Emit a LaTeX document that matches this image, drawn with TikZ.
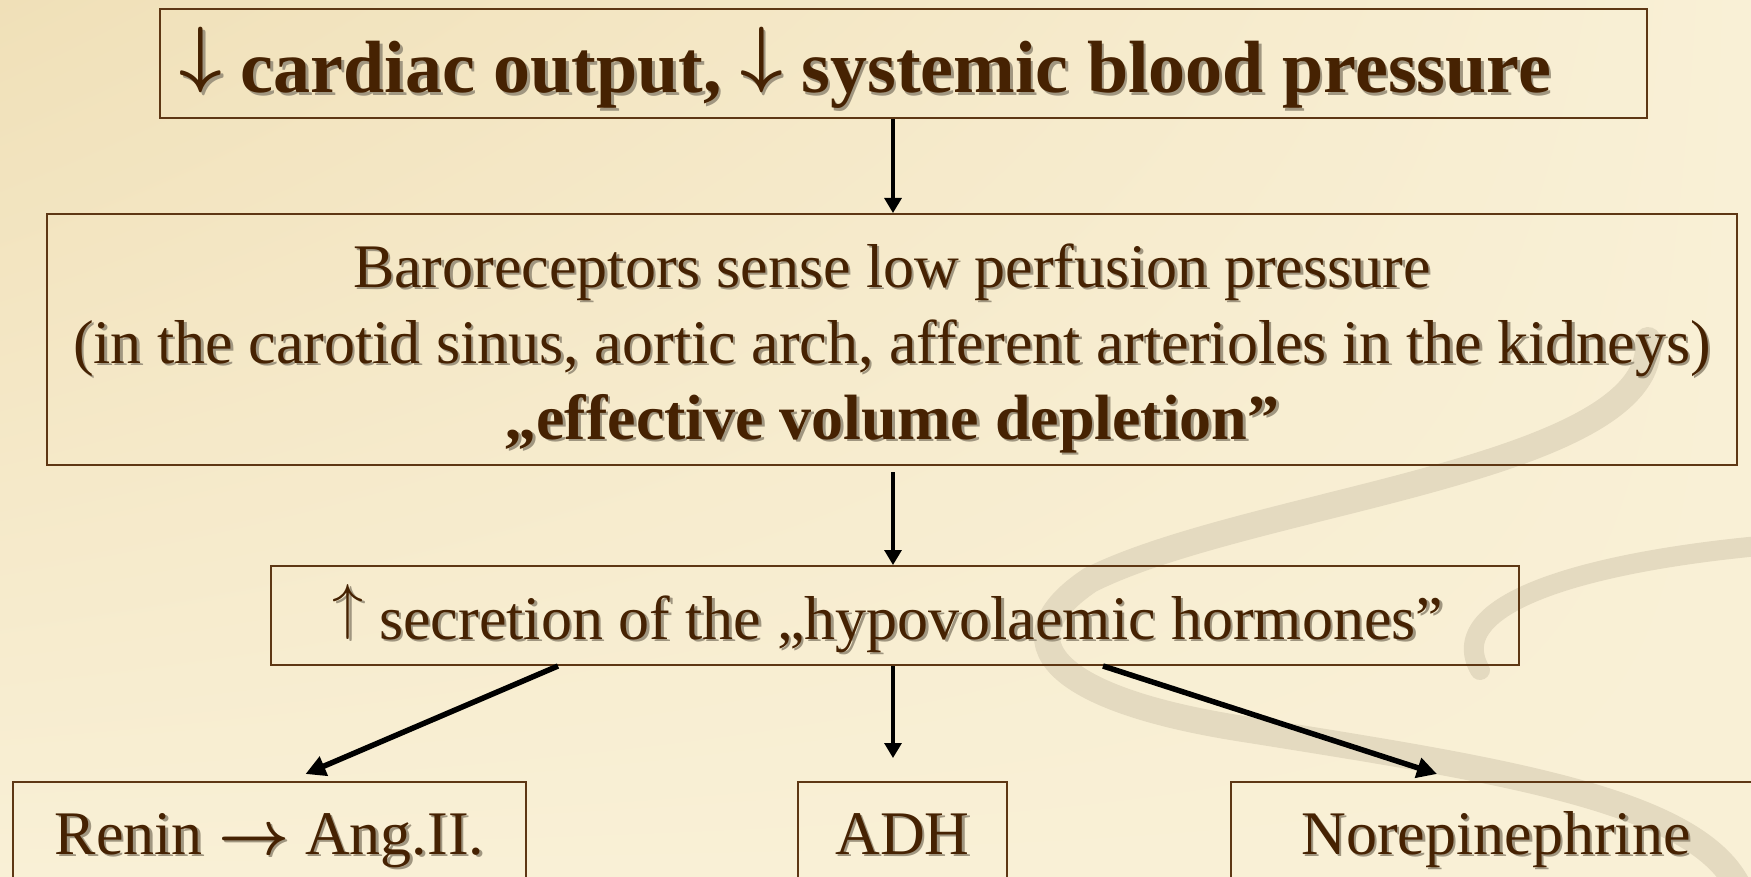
\documentclass[tikz,border=0pt]{standalone}
\usepackage{fix-cm}
\usepackage{amsmath}
\usepackage{fontspec}
\setmainfont{Liberation Serif}
\usepackage{xcolor}
\definecolor{bgpale}{RGB}{249,240,214}
\definecolor{bgwarm}{RGB}{240,224,184}
\definecolor{boxbrown}{RGB}{94,55,20}
\definecolor{textbrown}{RGB}{70,34,2}
\definecolor{shadowgray}{RGB}{160,150,128}
\definecolor{swirlgray}{RGB}{228,218,192}
\usepackage{tikz}
\usetikzlibrary{arrows.meta, positioning, calc, shadings}

\newcommand{\shd}[1]{\leavevmode\rlap{\kern2.5pt\raisebox{-2.5pt}{\color{shadowgray}#1}}#1}
\newcommand{\dn}{\raisebox{.19em}{$\boldsymbol{\downarrow}$}}
\newcommand{\up}{\raisebox{.19em}{$\uparrow$}}

\begin{document}
\begin{tikzpicture}[x=1pt, y=-1pt,
    box/.style={draw=boxbrown, line width=2pt, text=textbrown, inner sep=0pt, align=center, text depth=0pt},
    bigtext/.style={font=\fontsize{74}{76}\selectfont\bfseries},
    bodytext/.style={font=\fontsize{62}{76}\selectfont},
    flow/.style={-{Triangle[length=15pt, width=17pt]}, line width=3.2pt, black},
    flowthick/.style={-{Triangle[length=20pt, width=20pt]}, line width=5.5pt, black}]
    \clip (0,0) rectangle (1751,877);
    % background and swirl
    \shade[upper left=bgwarm, upper right=bgpale, lower left=bgpale, lower right=bgpale] (0,0) rectangle (1751,877);
    \draw[swirlgray, line width=26pt, line cap=round] (1648,340) .. controls (1660,470) and (1250,500) .. (1090,580)
        .. controls (1000,640) and (1050,700) .. (1250,730) .. controls (1500,770) and (1700,800) .. (1740,890);
    \draw[swirlgray, line width=20pt, line cap=round] (1770,545) .. controls (1600,560) and (1440,600) .. (1480,670);

    \node[box, bigtext, text height=59pt, minimum width=1487, minimum height=109] (cardiac) at (903.5,63.5)
        {\shd{\dn\ cardiac output, \dn\ systemic blood pressure}\kern76pt};
    \node[box, bodytext, text height=199pt, minimum width=1690, minimum height=251] (baro) at (892,339.5)
        {\shd{Baroreceptors sense low perfusion pressure}\\
         \shd{(in the carotid sinus, aortic arch, afferent arterioles in the kidneys)}\\
         {\fontsize{64}{76}\selectfont\bfseries\shd{„effective volume depletion”}}};
    \node[box, bodytext, text height=47pt, minimum width=1248, minimum height=99] (secretion) at (895,615.5)
        {\shd{\up\ secretion of the „hypovolaemic hormones”}\kern14pt};
    \node[box, bodytext, text height=40pt, minimum width=513, minimum height=104] (renin) at (269.5,834)
        {\shd{Renin $\boldsymbol{\rightarrow}$ Ang.II.}};
    \node[box, bodytext, text height=40pt, minimum width=209, minimum height=104] (adh) at (902.5,834) {\shd{ADH}};
    \node[box, bodytext, text height=40pt, minimum width=530, minimum height=104] (norepi) at (1496,834) {\shd{Norepinephrine}};

    \coordinate (axis) at (893,0);
    \draw[flow] (cardiac.south -| axis) -- (baro.north -| axis);
    \draw[flow, shorten <=6pt] (baro.south -| axis) -- (secretion.north -| axis);
    \draw[flow, shorten >=23pt] (secretion.south -| axis) -- (adh.north -| axis);
    \draw[flowthick] ([xshift=-337pt]secretion.south) -- ([xshift=36pt, yshift=7pt]renin.north);
    \draw[flowthick] ([xshift=208pt]secretion.south) -- ([xshift=-59pt, yshift=7pt]norepi.north);
\end{tikzpicture}
\end{document}
